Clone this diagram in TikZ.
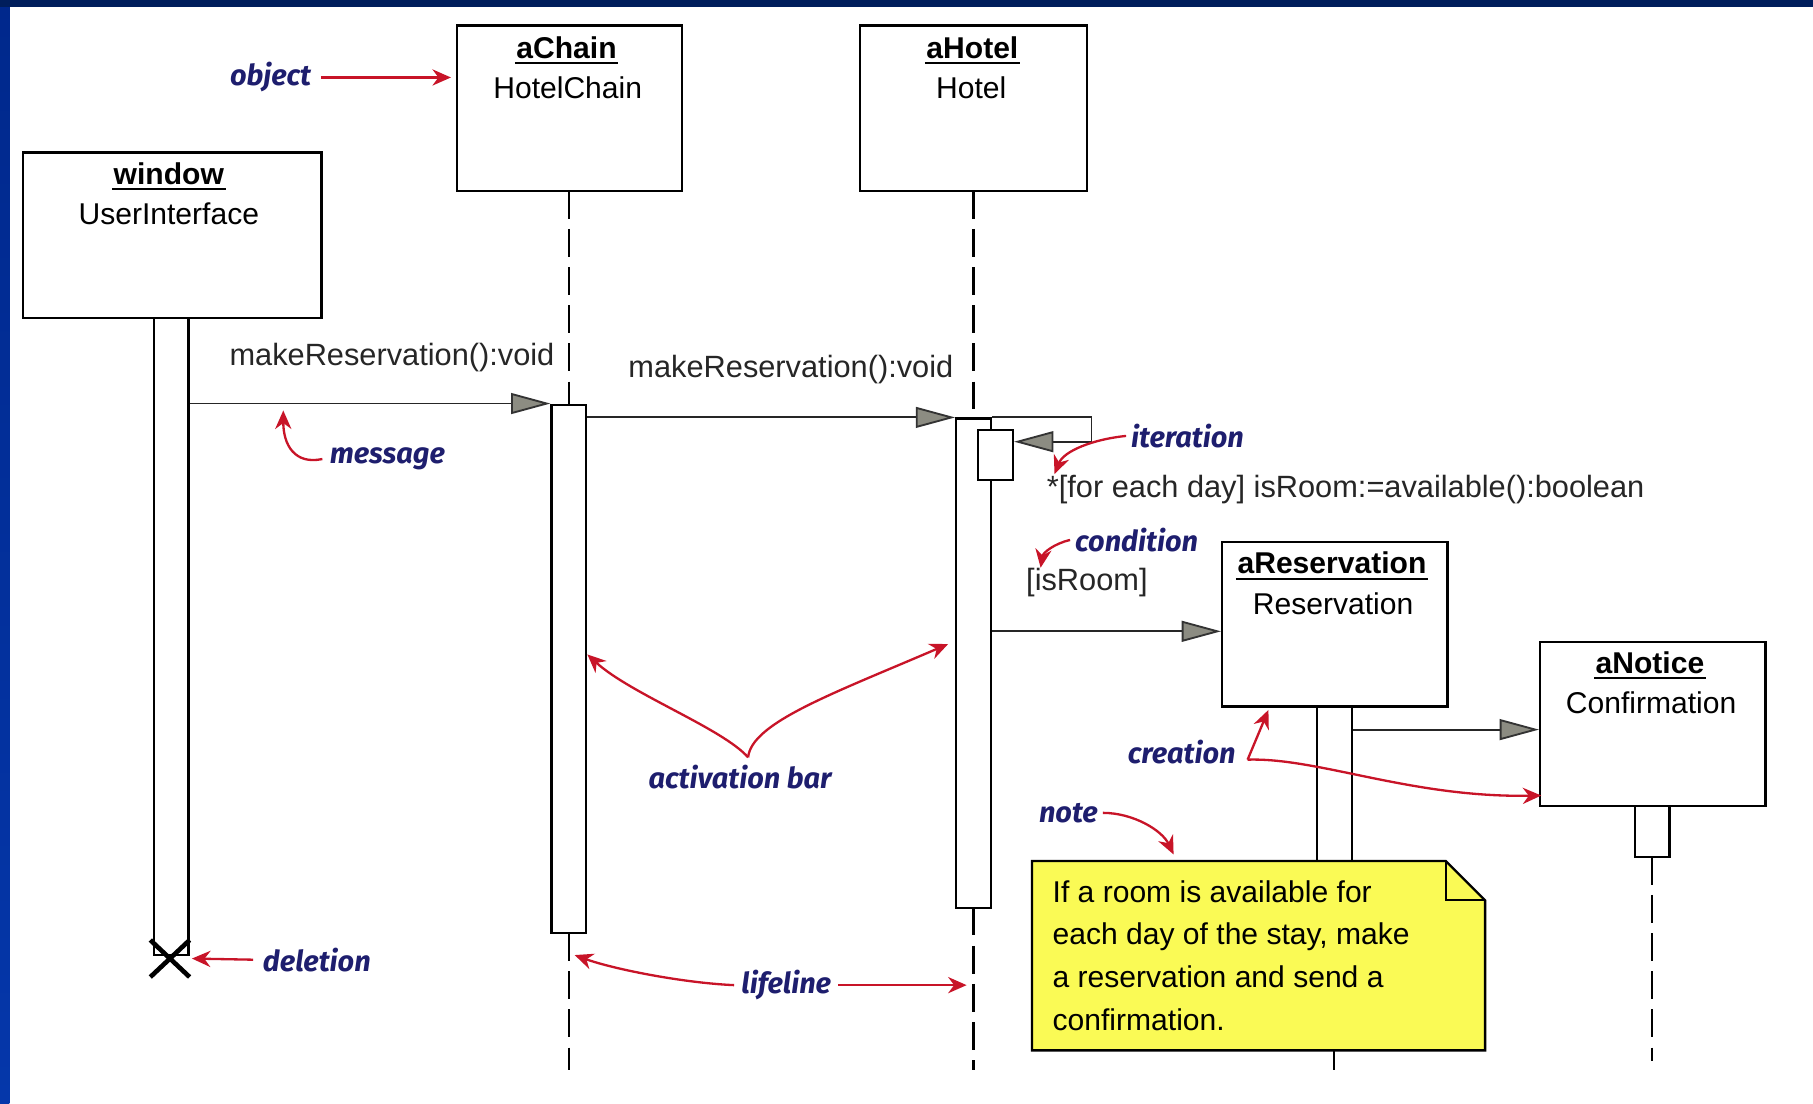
\documentclass[tikz,border=0pt]{standalone}
\usepackage{fontspec}
\setmainfont{Liberation Sans}
\newfontfamily\annfont{Fira Sans}
\usetikzlibrary{arrows.meta,fit,calc,shapes.misc}
\definecolor{navyband}{RGB}{0,30,92}
\definecolor{bluetop}{RGB}{0,40,140}
\definecolor{bluebot}{RGB}{5,55,170}
\definecolor{annred}{RGB}{200,20,40}
\definecolor{anntext}{RGB}{30,30,110}
\definecolor{noteyellow}{RGB}{250,250,85}
\definecolor{arrowgray}{RGB}{140,140,130}
\begin{document}
\begin{tikzpicture}[x=0.5pt,y=-0.5pt,
  objbox/.style={draw, line width=1pt, fill=white, inner sep=0pt},
  actbar/.style={draw, line width=1pt, fill=white, inner sep=0pt},
  objname/.style={font=\fontsize{13}{15}\selectfont\bfseries, inner xsep=0.5pt, inner ysep=1.8pt},
  objclass/.style={font=\fontsize{13}{15}\selectfont, inner sep=0pt},
  uline/.style={line width=1pt},
  lifeline/.style={line width=1pt, dash pattern=on 12pt off 4.5pt},
  msg/.style={line width=0.8pt, draw=black!85, -{Triangle[length=17pt,width=9pt,fill=arrowgray,color=black!80,line width=0.8pt]}},
  msglabel/.style={font=\fontsize{13.3}{15}\selectfont, text=black!85, inner sep=0pt},
  ann/.style={font=\annfont\fontsize{12.5}{15}\selectfont\bfseries\itshape, text=anntext, inner sep=1pt},
  annarrow/.style={draw=annred, line width=1pt, -{Stealth[length=8pt,width=7pt]}},
]
\useasboundingbox (0,0) rectangle (1568,954);
% background and frame bands
\fill[white] (0,0) rectangle (1568,954);
\shade[top color=bluetop, bottom color=bluebot] (0,0) rectangle (8,954);
\fill[navyband] (0,0) rectangle (1568,6);

% lifelines
\draw[lifeline] (492,165) -- (492,350);
\draw[lifeline] (492,807) -- (492,925);
\draw[lifeline] (842,165) -- (842,362);
\draw[lifeline] (842,785) -- (842,925);
\draw[lifeline] (1429,741) -- (1429,918);
\draw[line width=1pt] (1154,905) -- (1154,925);

% objects
\node[objbox, fit={(20,132) (278,275)}] (window) {};
\node[objbox, fit={(395,22) (590,165)}] (aChain) {};
\node[objbox, fit={(744,22) (940,165)}] (aHotel) {};
\node[objbox, fit={(1057,469) (1252,611)}] (aRes) {};
\node[objbox, fit={(1332,555) (1527,697)}] (aNotice) {};

\node[objname] (windowN) at (146,150) {window};
\node[objclass] (windowC) at (146,185) {UserInterface};
\node[objname] (aChainN) at (490,41) {aChain};
\node[objclass] (aChainC) at (491,76) {HotelChain};
\node[objname] (aHotelN) at (841,41) {aHotel};
\node[objclass] (aHotelC) at (840,76) {Hotel};
\node[objname] (aResN) at (1152,487) {aReservation};
\node[objclass] (aResC) at (1153,522) {Reservation};
\node[objname] (aNoticeN) at (1427,573) {aNotice};
\node[objclass] (aNoticeC) at (1428,608) {Confirmation};
\foreach \n in {windowN,aChainN,aHotelN,aResN,aNoticeN}
  \draw[uline] (\n.south west) -- (\n.south east);

% activation bars
\node[actbar, fit={(133,275) (163,826)}] (winbar) {};
\node[actbar, fit={(477,350) (507,807)}] (chainbar) {};
\node[actbar, fit={(827,362) (857,785)}] (hotelbar) {};
\node[actbar, fit={(846,372) (876,415)}] (hotelsub) {};
\node[actbar, fit={(1139,611) (1169,760)}] (resbar) {};
\node[actbar, fit={(1414,697) (1444,741)}] (notbar) {};

% deletion
\node[cross out, draw, line width=2pt, minimum width=15pt, minimum height=14pt, inner sep=0pt] (delX) at (147,829) {};

% messages
\coordinate (selfc) at (944,382);
\coordinate (m3y) at (0,546);
\coordinate (m4y) at (0,631);
\draw[msg] (winbar.east |- chainbar.north) -- (chainbar.north west);
\draw[msg] (chainbar.east |- hotelbar.north) -- (hotelbar.north west);
\draw[msg] (hotelbar.north east) -| (selfc) -- (hotelsub.east |- selfc);
\draw[msg] (hotelbar.east |- m3y) -- (aRes.west |- m3y);
\draw[msg] (resbar.east |- m4y) -- (aNotice.west |- m4y);

\node[msglabel] (l1) at (339,309) {makeReservation():void};
\node[msglabel] (l2) at (684,320) {makeReservation():void};
\node[msglabel, anchor=west] (l3) at (905,423) {*[for each day] isRoom:=available():boolean};
\node[msglabel] (l4) at (940,504) {[isRoom]};

% note
\node[fit={(893,745) (1284,908)}, inner sep=0pt] (note) {};
\draw[line width=1pt, fill=noteyellow] (note.north west) -- ($(note.north east)+(-34,0)$) -- ($(note.north east)+(0,34)$) -- (note.south east) -- (note.south west) -- cycle;
\draw[line width=1pt] ($(note.north east)+(-34,0)$) -- ($(note.north east)+(-34,34)$) -- ($(note.north east)+(0,34)$);
\node[anchor=north west, align=left, inner sep=0pt, font=\fontsize{13}{18.5}\selectfont] (noteText) at (910,761)
  {If a room is available for\\each day of the stay, make\\a reservation and send a\\confirmation.};

% annotations
\node[ann] (objT) at (234,67) {object};
\node[ann] (msgT) at (335,397) {message};
\node[ann] (iterT) at (1027,377) {iteration};
\node[ann] (condT) at (983,467) {condition};
\node[ann] (actT) at (640,672) {activation bar};
\node[ann] (creT) at (1022,650) {creation};
\node[ann] (noteT) at (924,703) {note};
\node[ann] (delT) at (274,830) {deletion};
\node[ann] (lifeT) at (680,852) {lifeline};

\coordinate (msgTip) at (245,355);
\coordinate (iterTip) at (912,410);
\coordinate (condTip) at (900,491);
\coordinate (actJ) at (647,655);
\coordinate (actL) at (508,566);
\coordinate (actR) at (820,557);
\coordinate (creJ) at (1079,657);
\coordinate (creUp) at (1097,614);
\coordinate (creNot) at (1333,688);
\coordinate (noteTip) at (1015,739);
\coordinate (lifeL) at (497,826);
\coordinate (lifeR) at (836,852);

\draw[annarrow] ([xshift=3pt]objT.east) -- ([xshift=-2pt]aChain.west |- objT.east);
\draw[annarrow] ([xshift=-2pt]msgT.west) .. controls (255,402) and (245,385) .. (msgTip);
\draw[annarrow] ([xshift=-1pt]iterT.west) .. controls (945,380) and (920,390) .. (iterTip);
\draw[annarrow] ([xshift=-1pt]condT.west) .. controls (912,470) and (902,478) .. (condTip);
\draw[annarrow] (actJ) .. controls (625,630) and (545,600) .. (actL);
\draw[annarrow] (actJ) .. controls (650,625) and (720,600) .. (actR);
\draw[annarrow] (creJ) -- (creUp);
\draw[annarrow] (creJ) .. controls (1140,655) and (1220,690) .. (creNot);
\draw[annarrow] ([xshift=1pt]noteT.east) .. controls (980,703) and (1005,718) .. (noteTip);
\draw[annarrow] ([xshift=-3pt]delT.west) -- ([xshift=1pt]delX.east);
\draw[annarrow] ([xshift=-2pt]lifeT.west) .. controls (590,850) and (530,838) .. (lifeL);
\draw[annarrow] ([xshift=2pt]lifeT.east) -- (lifeR);
\end{tikzpicture}
\end{document}
